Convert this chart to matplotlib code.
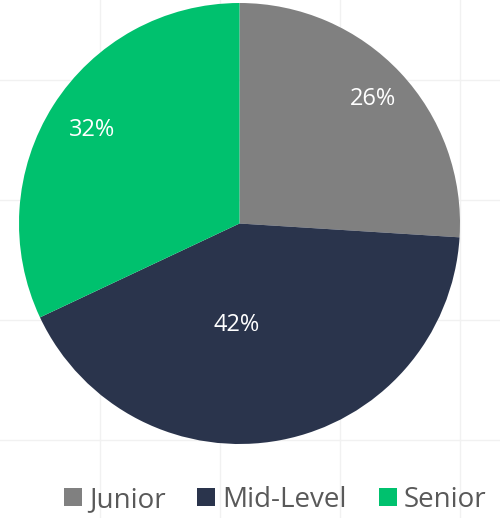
import matplotlib.pyplot as plt
import numpy as np

# data
levels = ["Junior", "Mid-Level", "Senior"]
shares = [26, 42, 32]
colors = ["#808080", "#2a344c", "#00c16e"]
# label placement (fraction of radius, angle in degrees) as in the original
label_pos = [(0.83, 43.0), (0.46, -91.7), (0.79, 147.7)]

W, H = 500, 518
fig = plt.figure(figsize=(W / 100, H / 100), dpi=100)
ax = fig.add_axes([0, 0, 1, 1])

# faint page grid behind the chart
for gx in [100, 220, 340, 460]:
    ax.axvline(gx, color="#f1f1f1", lw=1, zorder=0)
for gy in [80, 200, 320, 440]:
    ax.axhline(H - gy, color="#f1f1f1", lw=1, zorder=0)

cx, cy, r = 239.5, H - 223.5, 220.5
wedges, _ = ax.pie(shares, colors=colors, startangle=90, counterclock=False,
                   center=(cx, cy), radius=r, frame=True)
ax.set_xlim(0, W)
ax.set_ylim(0, H)
ax.set_aspect("equal")
ax.axis("off")

for val, (f, ang) in zip(shares, label_pos):
    a = np.deg2rad(ang)
    ax.text(cx + f * r * np.cos(a), cy + f * r * np.sin(a), f"{val}%",
            ha="center", va="center", color="white", fontsize=17,
            family="Open Sans")

fig.legend(wedges, levels, loc="lower right", bbox_to_anchor=(1.023, -0.04),
           ncol=3, frameon=False, handlelength=0.65, handleheight=0.65,
           handletextpad=0.25, columnspacing=1.15,
           prop={"family": "Open Sans", "size": 20}, labelcolor="#595959")

fig.savefig("out.png", dpi=100)
